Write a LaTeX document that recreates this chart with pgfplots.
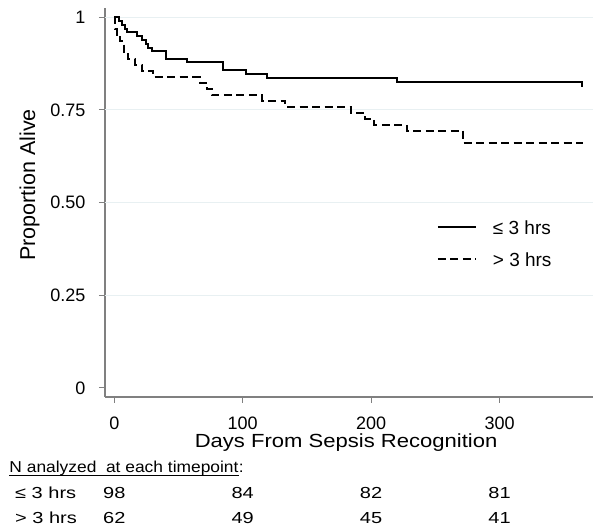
\documentclass[border=0pt]{standalone}
\usepackage{fontspec}
\setmainfont{Liberation Sans}
\newfontfamily\xlabfont[FakeStretch=1.16]{Liberation Sans}
\newfontfamily\hdrfont[FakeStretch=1.1]{Liberation Sans}
\newfontfamily\tabfont[FakeStretch=1.25]{Liberation Sans}
\usepackage{pgfplots}
\pgfplotsset{compat=1.18}
\definecolor{axisgray}{RGB}{128,128,128}
\definecolor{gridc}{RGB}{232,240,242}
\begin{document}
\begin{tikzpicture}
\useasboundingbox (0,0) rectangle (602bp,532bp);
\begin{axis}[
  at={(105bp,135bp)}, anchor=south west,
  scale only axis, width=488bp, height=389bp,
  xmin=-7.24, xmax=372.8, ymin=-0.025, ymax=1.025,
  axis lines*=left,
  axis line style={draw=axisgray, line width=1.6bp},
  xtick={0,100,200,300}, xticklabels={0,100,200,300},
  ytick={0,0.25,0.5,0.75,1}, yticklabels={0,0.25,0.50,0.75,1},
  tick align=outside, major tick length=6bp,
  tick style={draw=axisgray, line width=1.2bp},
  /pgf/number format/assume math mode=true,
  ticklabel style={font=\fontsize{18bp}{20bp}\selectfont, inner sep=0pt, text depth=0pt},
  yticklabel style={anchor=east, xshift=-13.3bp},
  xticklabel style={anchor=north, yshift=-13.8bp},
  extra y ticks={0.25,0.5,0.75,1}, extra y tick labels={},
  extra y tick style={grid=major, major tick length=0pt},
  grid style={draw=gridc, line width=1bp},
  xlabel={Days From Sepsis Recognition},
  xlabel style={font=\xlabfont\fontsize{19bp}{21bp}\selectfont, at={(axis description cs:0.494,-0.1303)}, anchor=base, inner sep=0pt, text height=13.8bp, text depth=0pt},
  ylabel={Proportion Alive},
  ylabel style={font=\fontsize{21.5bp}{23bp}\selectfont, at={(axis description cs:-0.1434,0.545)}, anchor=base, inner sep=0pt},
  legend cell align=left,
  legend style={draw=none, fill=none, at={(axis description cs:0.6797,0.4594)}, anchor=north west,
    inner sep=0pt, row sep=13.7bp, font=\fontsize{19bp}{21bp}\selectfont,
    nodes={inner sep=0pt, text height=16bp, text depth=2bp},
    /tikz/every odd column/.append style={column sep=15.7bp}},
  legend image code/.code={\draw[line width=2bp,#1] (0bp,0bp) -- (38.3bp,0bp);},
]
\addplot[black, line width=2bp, const plot] coordinates {
(0,1) (3.7,0.990) (5.8,0.980) (8.4,0.969) (10.2,0.959) (17.4,0.949) (21.3,0.939)
(24.4,0.929) (26.5,0.918) (29.1,0.908) (40.2,0.888) (56.9,0.878) (84.9,0.857)
(102.6,0.847) (118.6,0.837) (220.4,0.826) (363.9,0.815) (364.6,0.815)};
\addlegendentry{≤ 3 hrs}
\addplot[black, line width=2bp, dash pattern=on 8bp off 4.5bp, const plot] coordinates {
(0,1) (0.6,0.968) (2.1,0.952) (4.7,0.935) (7.8,0.903) (10.9,0.887) (16.1,0.871)
(21.3,0.855) (30.4,0.839) (66.7,0.823) (72,0.806) (75.9,0.790) (114.8,0.774)
(133,0.758) (184.1,0.742) (195.5,0.726) (202.3,0.710) (227.7,0.694) (271.8,0.661)
(365.3,0.661)};
\addlegendentry{> 3 hrs}
\end{axis}
\node[anchor=base west, inner sep=0pt, font=\hdrfont\fontsize{15.8bp}{18bp}\selectfont] (h) at (9.3bp,59.7bp) {N analyzed\ \ at each timepoint};
\node[anchor=base west, inner sep=0pt, font=\hdrfont\fontsize{15.8bp}{18bp}\selectfont] at (h.base east) {:};
\draw[line width=0.9bp] ([yshift=-2.7bp]h.base west) -- ([yshift=-2.7bp]h.base east);
\begin{scope}[every node/.style={inner sep=0pt, font=\tabfont\fontsize{16bp}{18bp}\selectfont}]
\node[anchor=base west] at (15bp,33.7bp) {≤ 3 hrs};
\node[anchor=base west] at (15bp,8.7bp) {> 3 hrs};
\node[anchor=base] at (114.3bp,33.7bp) {98};
\node[anchor=base] at (242.7bp,33.7bp) {84};
\node[anchor=base] at (371.1bp,33.7bp) {82};
\node[anchor=base] at (499.5bp,33.7bp) {81};
\node[anchor=base] at (114.3bp,8.7bp) {62};
\node[anchor=base] at (242.7bp,8.7bp) {49};
\node[anchor=base] at (371.1bp,8.7bp) {45};
\node[anchor=base] at (499.5bp,8.7bp) {41};
\end{scope}
\end{tikzpicture}
\end{document}
